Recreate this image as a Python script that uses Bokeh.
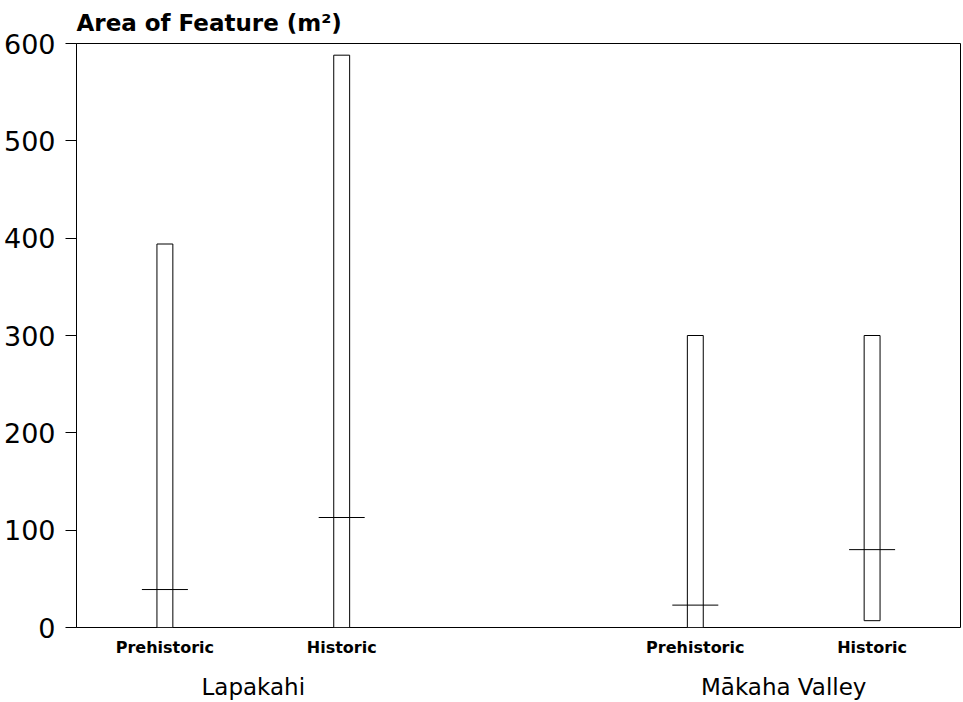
from bokeh.plotting import figure
from bokeh.models import FactorRange, Range1d, ColumnDataSource, FixedTicker, CategoricalAxis
from bokeh.embed import file_html
from bokeh.resources import INLINE

sites = ["Lapakahi", "Lapakahi", "Mākaha Valley", "Mākaha Valley"]
periods = ["Prehistoric", "Historic", "Prehistoric", "Historic"]
area_min = [0, 0, 0, 7]
area_max = [394, 588, 300, 300]
area_mid = [39, 113, 23, 80]
y_ticks = [0, 100, 200, 300, 400, 500, 600]
site_names = ["Lapakahi", "Mākaha Valley"]

factors = list(zip(sites, periods))
src = ColumnDataSource(dict(x=factors, lo=area_min, hi=area_max, mid=area_mid))

p = figure(width=963, height=702, output_backend="svg", toolbar_location=None,
           x_range=FactorRange(*factors, factor_padding=0.0, group_padding=1.0, range_padding=0.0),
           y_range=Range1d(0, 600),
           title="Area of Feature (m²)")
p.extra_x_ranges = {"sites": FactorRange(factors=site_names, factor_padding=2.0,
                                         range_padding=0.5, range_padding_units="absolute")}
p.min_border_left = 75
p.min_border_right = 3
p.min_border_top = 0
p.min_border_bottom = 75

p.title.text_font = "DejaVu Sans"
p.title.text_font_size = "23px"
p.title.text_font_style = "bold"
p.title.text_color = "black"
p.title.align = "left"
p.title.offset = 0
p.title.standoff = 15

p.grid.visible = False
p.outline_line_color = "black"
p.outline_line_width = 1
p.background_fill_color = "white"
p.border_fill_color = "white"

p.vbar(x="x", top="hi", bottom="lo", width=0.09, source=src,
       fill_color="white", line_color="black", line_width=1)
p.dash(x="x", y="mid", size=46, source=src, line_color="black", line_width=1)

ya = p.yaxis[0]
ya.ticker = FixedTicker(ticks=y_ticks)
ya.minor_tick_line_color = None
ya.major_tick_out = 11
ya.major_tick_in = 0
ya.axis_line_color = "black"
ya.major_label_text_font = "DejaVu Sans"
ya.major_label_text_font_size = "27px"
ya.major_label_text_color = "black"
ya.major_label_standoff = 10

xa = p.xaxis[0]
xa.axis_line_color = None
xa.major_tick_line_color = None
xa.minor_tick_line_color = None
xa.major_label_text_font = "DejaVu Sans"
xa.major_label_text_font_size = "16px"
xa.major_label_text_font_style = "bold"
xa.major_label_text_color = "black"
xa.major_label_text_line_height = 1.0
xa.major_label_standoff = 4
xa.group_text_font_size = "1px"
xa.group_text_color = None
xa.separator_line_color = None

sa = CategoricalAxis(x_range_name="sites")
sa.axis_line_color = None
sa.major_tick_line_color = None
sa.minor_tick_line_color = None
sa.major_label_text_font = "DejaVu Sans"
sa.major_label_text_font_size = "23px"
sa.major_label_text_color = "black"
sa.major_label_standoff = 8
p.add_layout(sa, "below")

open("out.html", "w").write(file_html(p, INLINE))
